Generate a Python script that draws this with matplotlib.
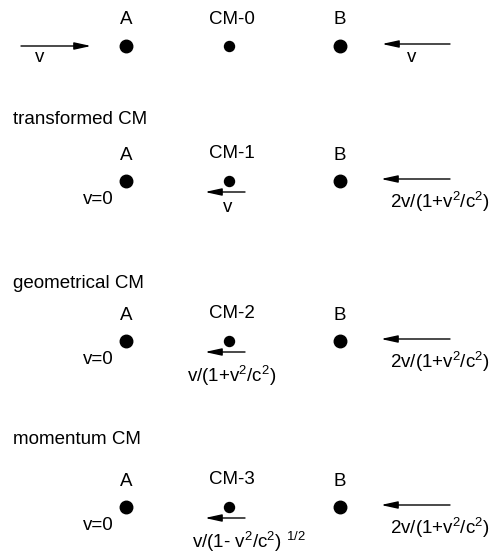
import matplotlib.pyplot as plt

plt.rcParams['font.family'] = ['Liberation Sans', 'DejaVu Sans']
plt.rcParams['mathtext.fontset'] = 'custom'
plt.rcParams['mathtext.rm'] = 'Liberation Sans'
plt.rcParams['mathtext.it'] = 'Liberation Sans'

# panel content
titles = ['', 'transformed CM', 'geometrical CM', 'momentum CM']
cm_labels = ['CM-0', 'CM-1', 'CM-2', 'CM-3']
a_labels = ['', 'v=0', 'v=0', 'v=0']
cm_vel = ['', 'v', r'v/(1+v$^2$/c$^2$)', r'v/(1- v$^2$/c$^2$) $^{1/2}$']
b_vel = ['v', r'2v/(1+v$^2$/c$^2$)', r'2v/(1+v$^2$/c$^2$)', r'2v/(1+v$^2$/c$^2$)']

fig = plt.figure(figsize=(4.98, 5.57), dpi=100)
ax = fig.add_axes([0, 0, 1, 1])
ax.set_xlim(0, 498)
ax.set_ylim(557, 0)
ax.axis('off')

# vertical layout of each panel
dot_y = [46, 181, 341, 507]
title_y = [None, 120, 283, 440]
fs = 13.5


def arrow(x0, x1, y):
    ax.annotate('', xy=(x1, y), xytext=(x0, y),
                arrowprops=dict(arrowstyle='-|>,head_length=1.0,head_width=0.22',
                                color='black', lw=1, shrinkA=0, shrinkB=0))


for i in range(4):
    y = dot_y[i]
    if titles[i]:
        ax.text(13, title_y[i], titles[i], fontsize=13.5, va='center', ha='left')
    ax.text(126, y - 26, 'A', fontsize=fs, ha='center', va='center')
    ax.text(232, y - 27, cm_labels[i], fontsize=fs, ha='center', va='center')
    ax.text(340, y - 26, 'B', fontsize=fs, ha='center', va='center')
    ax.plot(126, y, 'o', color='black', ms=9)
    ax.plot(229, y, 'o', color='black', ms=7.2)
    ax.plot(340, y, 'o', color='black', ms=9)
    if i == 0:
        arrow(21, 91, y)
        ax.text(40, y + 12, b_vel[i], fontsize=fs, ha='center', va='center')
        arrow(450, 382, y - 2)
        ax.text(412, y + 11, b_vel[i], fontsize=fs, ha='center', va='center')
    else:
        ax.text(114, y + 19, a_labels[i], fontsize=fs, ha='right', va='center')
        arrow(245, 205, y + 11)
        cx = [0, 228, 232, 249][i]
        ax.text(cx, y + (26 if i == 1 else 35), cm_vel[i],
                fontsize=fs, ha='center', va='center')
        arrow(450, 381, y - 2)
        ax.text(390, y + 21, b_vel[i], fontsize=fs, ha='left', va='center')

fig.savefig('out.png', dpi=100)
